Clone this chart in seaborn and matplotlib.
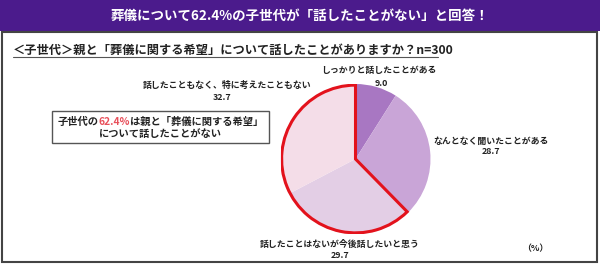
import matplotlib
matplotlib.use("Agg")
import matplotlib.pyplot as plt
import seaborn as sns
import numpy as np
from matplotlib.patches import Rectangle, Wedge

sns.set_theme(style="white")
plt.rcParams['font.family'] = ['Noto Sans CJK JP', 'DejaVu Sans']

title = "葬儀について62.4%の子世代が「話したことがない」と回答！"
subtitle = "＜子世代＞親と「葬儀に関する希望」について話したことがありますか？n=300"
categories = ["しっかりと話したことがある", "なんとなく聞いたことがある",
              "話したことはないが今後話したいと思う", "話したこともなく、特に考えたこともない"]
values = [9.0, 28.7, 29.7, 32.7]
colors = ["#A877C2", "#C9A5D7", "#E3CEE5", "#F4DDE8"]
box_line1 = ["子世代の", "62.4%", "は親と「葬儀に関する希望」"]
box_line2 = "について話したことがない"
unit = "（%）"

W, H = 600, 264
fig = plt.figure(figsize=(W / 100, H / 100), dpi=100)
fig.patch.set_facecolor("white")

bg = fig.add_axes([0, 0, 1, 1], zorder=0)
bg.set_xlim(0, W)
bg.set_ylim(H, 0)
bg.axis("off")

# title bar
bg.add_patch(Rectangle((0, 0), W, 31, facecolor="#4B1B8C", edgecolor="none"))
bg.text(300, 16, title, color="white", fontsize=9.7, fontweight="bold",
        ha="center", va="center")
# panel border
bg.add_patch(Rectangle((1.5, 31.5), 595.5, 230, facecolor="white",
                       edgecolor="#444444", linewidth=1.5))

# subtitle
bg.text(13, 50, subtitle, color="#222222", fontsize=8.8, fontweight="bold",
        ha="left", va="center")
bg.plot([13, 438], [57, 57], color="#555555", lw=0.8)

# pie
cx, cy, r = 355.5, 159, 75
pax = fig.add_axes([(cx - r) / W, (H - cy - r) / H, 2 * r / W, 2 * r / H], zorder=2)
pax.pie(values, colors=colors, startangle=90, counterclock=False,
        wedgeprops=dict(linewidth=0))
pax.set_xlim(-1, 1)
pax.set_ylim(-1, 1)
pax.set_aspect("equal")
pax.axis("off")

# red outline around last two slices
start_frac = sum(values[:2]) / sum(values)
theta2 = 90 - start_frac * 360 + 360
pax.add_patch(Wedge((0, 0), 0.985, 90, theta2, facecolor="none",
                    edgecolor="#E3121C", linewidth=2.2, joinstyle="miter"))

# slice labels
lab_kw = dict(color="#222222", fontsize=6.4, fontweight="bold", ha="center", va="center")
label_pos = [(379, 70, 381, 83), (491, 141, 491, 152), (340, 244, 340, 255), (227, 85, 222, 97)]
for cat, v, (x1, y1, x2, y2) in zip(categories, values, label_pos):
    bg.text(x1, y1, cat, **lab_kw)
    bg.text(x2, y2, f"{v:.1f}", **lab_kw)

bg.text(535, 249, unit, **lab_kw)

# callout box
bg.add_patch(Rectangle((52, 111), 217, 32, facecolor="white", edgecolor="#555555", linewidth=1.0))
fig.canvas.draw()
renderer = fig.canvas.get_renderer()
box_kw = dict(fontsize=7.4, fontweight="bold", va="center", ha="left")
pieces_col = ["#222222", "#E8505B", "#222222"]
prefixes = ["".join(box_line1[:i]) for i in range(len(box_line1) + 1)]
def wpx(s):
    if not s:
        return 0.0
    t = bg.text(0, 0, s, **box_kw)
    w = t.get_window_extent(renderer).width
    t.remove()
    return w
pw = [wpx(p) for p in prefixes]
x0 = 160 - pw[-1] / 2
for i, (s, c) in enumerate(zip(box_line1, pieces_col)):
    bg.text(x0 + pw[i], 122, s, color=c, **box_kw)
bg.text(160, 134, box_line2, color="#222222", fontsize=7.4, fontweight="bold",
        ha="center", va="center")

fig.savefig("out.png", dpi=100)
